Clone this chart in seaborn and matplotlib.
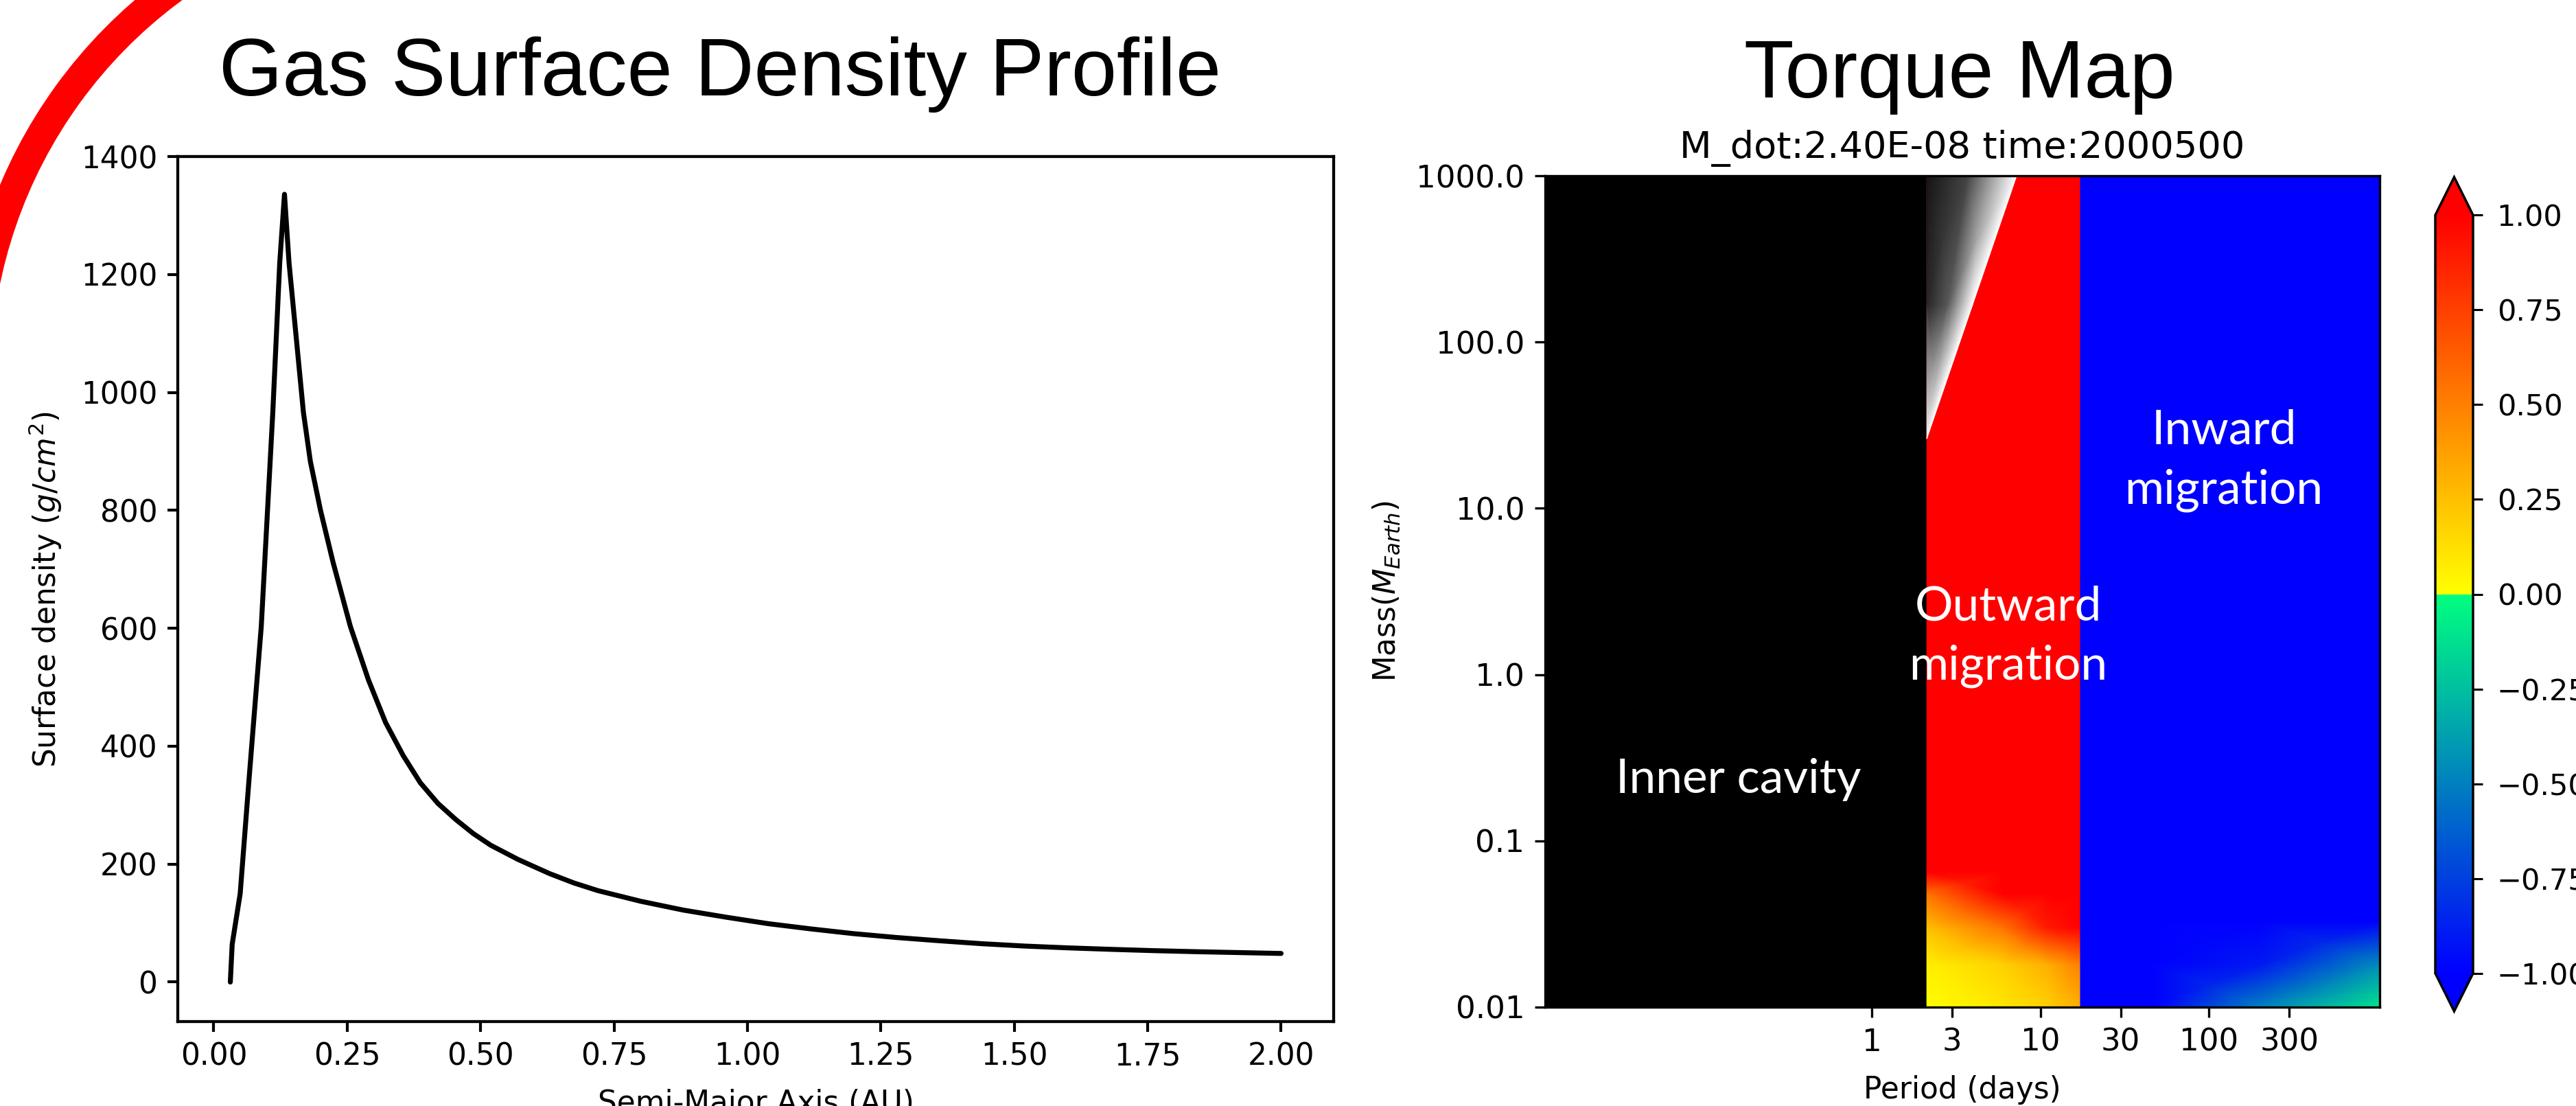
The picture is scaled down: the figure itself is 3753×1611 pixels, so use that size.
import numpy as np
import pandas as pd
import matplotlib
matplotlib.use("Agg")
import matplotlib.pyplot as plt
import seaborn as sns
from matplotlib.colors import ListedColormap, Normalize
from matplotlib.patches import Arc
from matplotlib.transforms import IdentityTransform
from matplotlib.ticker import NullLocator

# ---------------- data: gas surface density profile ----------------
semi_major_axis_au = [0.031, 0.0345, 0.0495, 0.066, 0.089, 0.1106, 0.1236, 0.1325,
                      0.141, 0.168, 0.181, 0.200, 0.2235, 0.256, 0.290, 0.322, 0.355,
                      0.387, 0.420, 0.453, 0.486, 0.519, 0.570, 0.629, 0.675, 0.720,
                      0.800, 0.880, 0.960, 1.039, 1.120, 1.200, 1.280, 1.360, 1.440,
                      1.520, 1.600, 1.680, 1.760, 1.840, 1.920, 2.000]
surface_density = [0, 64, 150, 343, 603, 966, 1220, 1336,
                   1220, 966, 883, 800, 712, 603, 512, 440, 384,
                   338, 303, 276, 252, 232, 208, 184, 168, 155,
                   137, 122, 110, 99, 90, 82, 75.5, 70, 65,
                   61, 58, 55.5, 53.3, 51.5, 50, 48.5]
density_xticks = [0.0, 0.25, 0.5, 0.75, 1.0, 1.25, 1.5, 1.75, 2.0]
density_yticks = [0, 200, 400, 600, 800, 1000, 1200, 1400]

# ---------------- data: torque map ----------------
period_ticks = [1, 3, 10, 30, 100, 300]
period_tick_labels = ["1", "3", "10", "30", "100", "300"]
mass_ticks = [0.01, 0.1, 1, 10, 100, 1000]
mass_tick_labels = ["0.01", "0.1", "1.0", "10.0", "100.0", "1000.0"]
period_range = [0.0115, 1033]
mass_range = [0.01, 1000]

# outward-migration zone (positive torque); rows follow outward_mass
outward_period = [2.12, 6.0, 11.0, 17.3]
outward_mass = [0.01, 0.018, 0.03, 0.048, 0.065, 1000]
outward_torque = [
    [0.00, 0.10, 0.18, 0.32],
    [0.06, 0.18, 0.32, 0.50],
    [0.25, 0.55, 0.90, 1.00],
    [0.55, 1.00, 1.00, 1.00],
    [1.00, 1.00, 1.00, 1.00],
    [1.00, 1.00, 1.00, 1.00],
]

# inward-migration zone (negative torque); rows follow inward_mass
inward_period = [17.3, 46.0, 200.0, 1033]
inward_mass = [0.01, 0.018, 0.033, 1000]
inward_torque = [
    [-1.0, -1.0, -0.50, -0.10],
    [-1.0, -1.0, -0.90, -0.45],
    [-1.0, -1.0, -1.00, -1.00],
    [-1.0, -1.0, -1.00, -1.00],
]

# grey wedge (gap-opening region): node periods, masses and shade
wedge_period = [[2.12, 2.12, 2.12], [2.12, 2.82, 3.96], [2.12, 3.72, 7.24]]
wedge_mass = [[26.2, 26.2, 26.2], [167, 167, 167], [1000, 1000, 1000]]
wedge_shade = [[1.0, 1.0, 1.0], [0.15, 0.35, 1.0], [0.08, 0.27, 1.0]]

cbar_ticks = [-1.0, -0.75, -0.5, -0.25, 0.0, 0.25, 0.5, 0.75, 1.0]

# ---------------- style ----------------
sns.set_style("ticks")
plt.rcParams["font.family"] = ["DejaVu Sans"]
plt.rcParams.update({
    "axes.edgecolor": "black", "xtick.color": "black", "ytick.color": "black",
    "text.color": "black", "axes.labelcolor": "black",
    "mathtext.fontset": "dejavusans",
})

W, H = 3753, 1611
fig = plt.figure(figsize=(W / 100, H / 100), dpi=100)
fig.patch.set_facecolor("white")

def frac_box(left, top, right, bottom):
    return [left / W, (H - bottom) / H, (right - left) / W, (bottom - top) / H]

# ---------------- left panel ----------------
ax1 = fig.add_axes(frac_box(259, 228, 1943, 1488))
df = pd.DataFrame({"a": semi_major_axis_au, "sigma": surface_density})
sns.lineplot(data=df, x="a", y="sigma", ax=ax1, color="black", linewidth=5.2, sort=False)
ax1.set_xticks(density_xticks)
ax1.set_yticks(density_yticks)
ax1.set_ylim(-67, 1400)
ax1.set_xlabel("Semi-Major Axis (AU)", fontsize=31.5, labelpad=18)
ax1.set_ylabel("Surface density ($g/cm^2$)", fontsize=31.5, labelpad=18)
ax1.tick_params(labelsize=31.5, length=10.5, width=3.0, pad=11)
for s in ax1.spines.values():
    s.set_linewidth(3.1)
    s.set_visible(True)

# ---------------- right panel ----------------
torque_cmap = ListedColormap(np.vstack([
    plt.get_cmap("winter")(np.linspace(0, 1, 256)),
    plt.get_cmap("autumn_r")(np.linspace(0, 1, 256)),
]))
norm = Normalize(-1, 1)

ax2 = fig.add_axes(frac_box(2251, 256, 3467, 1467))
ax2.set_facecolor("black")
ax2.set_xscale("log")
ax2.set_yscale("log")

PX, MY = np.meshgrid(outward_period, outward_mass)
mesh = ax2.pcolormesh(PX, MY, np.array(outward_torque), cmap=torque_cmap, norm=norm,
                      shading="gouraud")
PX2, MY2 = np.meshgrid(inward_period, inward_mass)
ax2.pcolormesh(PX2, MY2, np.array(inward_torque), cmap=torque_cmap, norm=norm,
               shading="gouraud")
ax2.pcolormesh(np.array(wedge_period), np.array(wedge_mass), np.array(wedge_shade),
               shading="gouraud", cmap="gray", vmin=0, vmax=1)

ax2.set_xlim(period_range)
ax2.set_ylim(mass_range)
ax2.set_xticks(period_ticks, labels=period_tick_labels)
ax2.set_yticks(mass_ticks, labels=mass_tick_labels)
ax2.xaxis.set_minor_locator(NullLocator())
ax2.yaxis.set_minor_locator(NullLocator())
ax2.tick_params(labelsize=32.5, length=10.5, width=2.4, pad=11)
for s in ax2.spines.values():
    s.set_linewidth(2.4)
    s.set_visible(True)
ax2.set_xlabel("Period (days)", fontsize=31.5, labelpad=19)
ax2.set_ylabel("Mass($M_{Earth}$)", fontsize=31.5, labelpad=15)
ax2.set_title("M_dot:2.40E-08 time:2000500", fontsize=39, pad=18.7)

ann = dict(color="white", fontsize=50, family="Lato", ha="center", va="baseline",
           transform=ax2.transAxes, linespacing=1.46)
ax2.text(0.2319, 0.2576, "Inner cavity", **ann)
ax2.text(0.5551, 0.3939, "Outward\nmigration", **ann)
ax2.text(0.8133, 0.6061, "Inward\nmigration", **ann)

# colorbar
cax = fig.add_axes(frac_box(3548, 258, 3603, 1473))
cb = fig.colorbar(mesh, cax=cax, extend="both", ticks=cbar_ticks)
cb.ax.tick_params(labelsize=31, length=10, width=2.2, pad=15)
cb.outline.set_linewidth(2.5)
cb.outline.set_edgecolor("black")

# ---------------- slide titles ----------------
fig.text(1049 / W, (H - 139) / H, "Gas Surface Density Profile", ha="center",
         va="baseline", fontsize=85.6, family="Liberation Sans")
fig.text(2855 / W, (H - 142) / H, "Torque Map", ha="center",
         va="baseline", fontsize=85.6, family="Liberation Sans")

# red decorative arc in the top-left corner (pixel coordinates)
arc = Arc((669.5, H - 551.4), 1410, 1410, theta1=110, theta2=178,
          transform=IdentityTransform(), color="#ff0000", linewidth=31)
fig.patches.append(arc)
arc.set_figure(fig)

fig.savefig("out.png", dpi=100, facecolor="white")
